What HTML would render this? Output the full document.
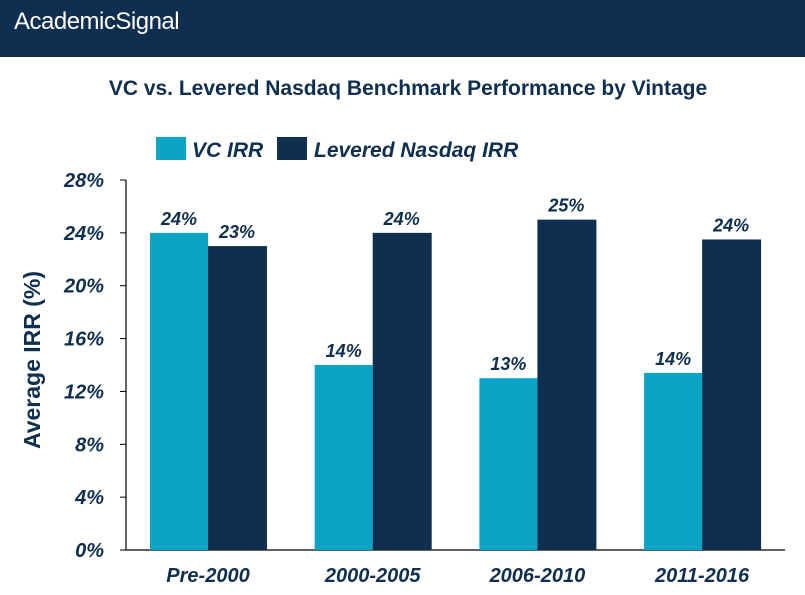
<!DOCTYPE html>
<html><head><meta charset="utf-8"><style>
body{margin:0;width:805px;height:595px;overflow:hidden;background:#fff;font-family:"Liberation Sans",sans-serif}
#hdr{position:absolute;left:0;top:0;width:805px;height:57px;background:#0e2f4f}
</style></head><body>
<div id="hdr">
<div style="position:absolute;left:14px;top:8px;color:#fff;font-size:24px;letter-spacing:-0.5px">AcademicSignal</div>
</div>
<svg id="c" width="805" height="595" style="position:absolute;left:0;top:0">
<text x="408" y="95" text-anchor="middle" font-size="21" font-weight="bold" fill="#0e2f4f">VC vs. Levered Nasdaq Benchmark Performance by Vintage</text>
<g>
<rect x="156" y="137" width="30" height="23" fill="#0aa5c4"/>
<text x="192" y="157" font-size="21" font-weight="bold" font-style="italic" fill="#0e2f4f">VC IRR</text>
<rect x="277" y="137" width="30" height="23" fill="#0e2f4f"/>
<text x="314" y="157" font-size="21" font-weight="bold" font-style="italic" fill="#0e2f4f">Levered Nasdaq IRR</text>
</g>
<text transform="translate(40,360) rotate(-90)" text-anchor="middle" font-size="23" font-weight="bold" fill="#0e2f4f">Average IRR (%)</text>
<g id="g"></g>
</svg>
<script>
const categories=["Pre-2000","2000-2005","2006-2010","2011-2016"];
const vcValues=[24,14,13,13.4];
const nasdaqValues=[23,24,25,23.5];
const vcLabels=["24%","14%","13%","14%"];
const nasdaqLabels=["23%","24%","25%","24%"];
const yTicks=[0,4,8,12,16,20,24,28];
const ns="http://www.w3.org/2000/svg",g=document.getElementById('g');
const y=v=>550-v*(370/28);
const xc=i=>208+i*164.7;
function mk(t,a,txt){const e=document.createElementNS(ns,t);for(const k in a)e.setAttribute(k,a[k]);if(txt!=null)e.textContent=txt;g.appendChild(e);return e;}
let e=mk('line',{x1:126,y1:180,x2:126,y2:550,stroke:'#000','stroke-width':1.2});


e=mk('line',{x1:126,y1:550,x2:785,y2:550,stroke:'#000','stroke-width':1.2});


yTicks.forEach(t=>{
 e=mk('line',{x1:120,y1:y(t),x2:126,y2:y(t),stroke:'#000'});
 
 
 e=mk('text',{x:104,y:y(t)+7,'text-anchor':'end','font-size':20,'font-weight':'bold','font-style':'italic',fill:'#0e2f4f'},t+'%');
 
 
});
const bw=58;
categories.forEach((c,i)=>{
 const cx=xc(i);
 e=mk('rect',{x:cx-bw,y:y(vcValues[i]),width:bw,height:550-y(vcValues[i]),fill:'#0aa5c4'});
 
 
 e=mk('rect',{x:cx,y:y(nasdaqValues[i]),width:bw+1,height:550-y(nasdaqValues[i]),fill:'#0e2f4f'});
 
 
 e=mk('text',{x:cx-bw/2,y:y(vcValues[i])-8,'text-anchor':'middle','font-size':18,'font-weight':'bold','font-style':'italic',fill:'#0e2f4f'},vcLabels[i]);
 
 
 e=mk('text',{x:cx+bw/2,y:y(nasdaqValues[i])-8,'text-anchor':'middle','font-size':18,'font-weight':'bold','font-style':'italic',fill:'#0e2f4f'},nasdaqLabels[i]);
 
 
 e=mk('text',{x:cx,y:582,'text-anchor':'middle','font-size':20,'font-weight':'bold','font-style':'italic',fill:'#0e2f4f'},c);
 
 
});
</script>
</body></html>
